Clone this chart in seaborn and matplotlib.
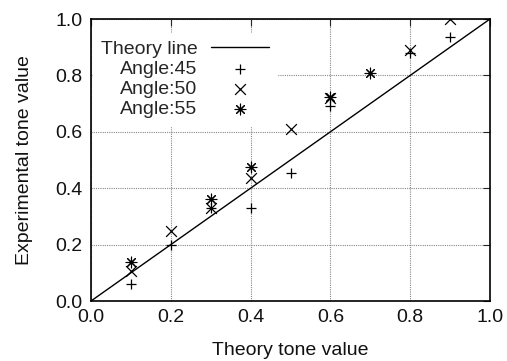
import numpy as np
import matplotlib
matplotlib.use('Agg')
import matplotlib.pyplot as plt
import seaborn as sns

# theory line
theory_x = [0.0, 1.0]
theory_y = [0.0, 1.0]

# measured tone values per screen angle
angle45_x = [0.1, 0.2, 0.3, 0.4, 0.5, 0.6, 0.8, 0.9]
angle45_y = [0.06, 0.20, 0.33, 0.33, 0.455, 0.69, 0.88, 0.935]

angle50_x = [0.1, 0.2, 0.3, 0.4, 0.5, 0.6, 0.8, 0.9]
angle50_y = [0.105, 0.25, 0.33, 0.435, 0.61, 0.72, 0.89, 1.0]

angle55_x = [0.1, 0.3, 0.4, 0.6, 0.7]
angle55_y = [0.14, 0.36, 0.475, 0.725, 0.81]

ticks = [0.0, 0.2, 0.4, 0.6, 0.8, 1.0]
tick_labels = ['0.0', '0.2', '0.4', '0.6', '0.8', '1.0']

sns.set_style('white')
plt.rcParams['font.family'] = ['Liberation Sans', 'DejaVu Sans']
plt.rcParams['font.size'] = 14

fig = plt.figure(figsize=(5.07, 3.61), dpi=100)
ax = fig.add_axes([91 / 507, 1 - 301 / 361, 399 / 507, 282 / 361])

sns.lineplot(x=theory_x, y=theory_y, color='black', linewidth=1, label='Theory line', ax=ax)
sns.scatterplot(x=angle45_x, y=angle45_y, marker='+', color='black', s=60, linewidth=0.9,
                label='Angle:45', ax=ax)
sns.scatterplot(x=angle50_x, y=angle50_y, marker='x', color='black', s=60, linewidth=0.9,
                label='Angle:50', ax=ax)
sns.scatterplot(x=angle55_x, y=angle55_y, marker=(8, 2, 0), color='black', s=60, linewidth=0.8,
                label='Angle:55', ax=ax)

ax.set_xlim(0, 1)
ax.set_ylim(0, 1)
ax.set_xticks(ticks)
ax.set_xticklabels(tick_labels)
ax.set_yticks(ticks)
ax.set_yticklabels(tick_labels)
ax.grid(True, color='#888888', linestyle=(0, (1, 1)), linewidth=0.8)
ax.tick_params(direction='in', top=True, right=True, length=5, width=0.8, labelsize=14,
               pad=6, labelcolor='#111111')
for s in ax.spines.values():
    s.set_color('black')
    s.set_linewidth(1.2)

ax.set_xlabel('Theory tone value', fontsize=14, labelpad=11, color='#111111')
ax.set_ylabel('Experimental tone value', fontsize=14, labelpad=16, color='#111111')

# markerfirst=False right-aligns the labels like the gnuplot key
ax.legend(loc='upper left', bbox_to_anchor=(0.005, 0.952), borderaxespad=0,
          frameon=True, edgecolor='white', facecolor='white', framealpha=1,
          fancybox=False, markerfirst=False, handlelength=3.0, handletextpad=0.7,
          labelspacing=0.12, borderpad=0.4, fontsize=14)

fig.savefig('out.png', dpi=100)
